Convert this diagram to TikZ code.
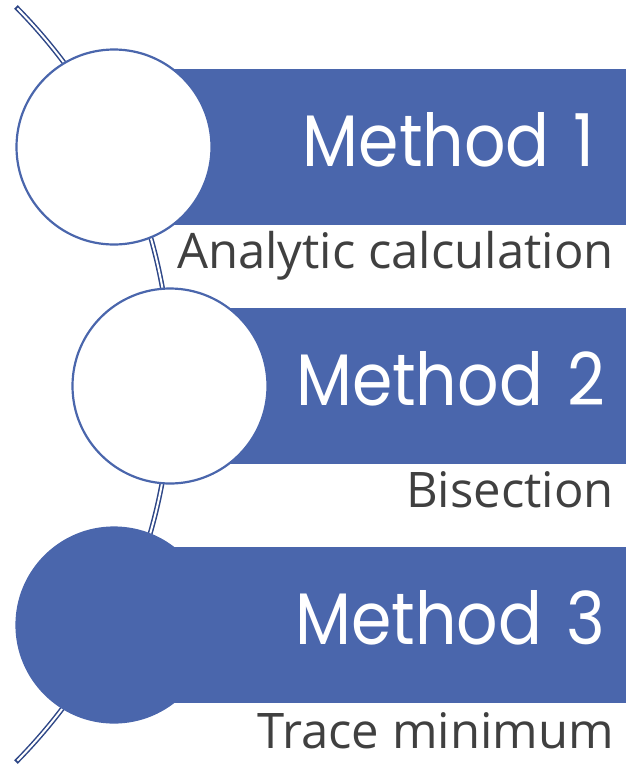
\documentclass[tikz,border=0pt]{standalone}
\usepackage{fontspec}
\usepackage{xcolor}
\usepackage{tikz}
\usetikzlibrary{positioning}
\newfontfamily\titlefont{Poppins}
\newfontfamily\descfont{Open Sans}
\definecolor{barblue}{HTML}{4A66AC}
\definecolor{arcblue}{HTML}{2E4787}
\definecolor{descgray}{HTML}{404040}
\newcommand{\methodtitle}[1]{\scalebox{0.89}[1]{Method}\hspace{24pt}\scalebox{0.9}[1]{#1}}
\tikzset{
  every picture/.style = {
    x = 1pt,
    y = -1pt,
  }
  ,
  bar/.style = {
    rectangle,
    fill = barblue,
    inner sep = 0pt,
    minimum height = 156pt,
    anchor = west
  }
  , % round markers
  marker/.style = {
    circle,
    draw = barblue,
    line width = 2.2pt,
    fill = white,
    minimum size = 195pt,
    inner sep = 0pt
  }
  , % headings on the bars
  label-title/.style = {
    font = \titlefont\fontsize{73}{80}\selectfont,
    text = white,
    inner sep = 0pt,
    anchor = base east
  }
  , % text under the bars
  label-desc/.style = {
    font = \descfont\fontsize{49}{56}\selectfont,
    text = descgray,
    inner sep = 0pt,
    anchor = base east
  }
}

\begin{document}
\begin{tikzpicture}
\useasboundingbox (0,0) rectangle (626,764);
\coordinate (hub) at (-365.6,384.5);
\draw [arcblue, line width=5pt] (hub) ++(-44.7:536.8) arc [start angle=-44.7, end angle=44.7, radius=536.8];
\draw [white, line width=2pt] (hub) ++(-44.5:536.8) arc [start angle=-44.5, end angle=44.5, radius=536.8];

\node [bar, minimum width=512pt] (bar1) at (114,147) {};
\node [bar, minimum width=456pt] (bar2) at (170,386) {};
\node [bar, minimum width=512pt] (bar3) at (114,625) {};

\node [marker] (c1) at (114,147) {};
\node [marker] (c2) at (170,386) {};
\node [marker, fill=barblue] (c3) at (114,625) {};

\node [label-title] (t1) at (595,166) {\methodtitle{1}};
\node [label-title] (t2) at (605,405) {\methodtitle{2}};
\node [label-title] (t3) at (605,644) {\methodtitle{3}};

\node [label-desc] (d1) at (614,268) {Analytic calculation};
\node [label-desc] (d2) at (614,507) {Bisection};
\node [label-desc] (d3) at (614,748) {Trace minimum};
\end{tikzpicture}
\end{document}
